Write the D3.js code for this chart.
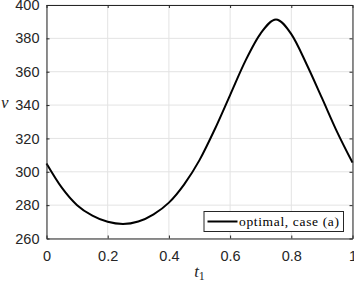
<!DOCTYPE html>
<html>
<head>
<meta charset="utf-8">
<script src="https://cdn.jsdelivr.net/npm/d3@7.9.0/dist/d3.min.js"></script>
<style>
  body { margin: 0; background: #fff; }
  svg { display: block; }
  .tick text { font-family: "Liberation Sans", Arial, sans-serif; font-size: 14.5px; fill: #262626; }
</style>
</head>
<body>
<div id="chart"></div>
<script>
// values
const tValues = [0, 0.05, 0.1, 0.15, 0.2, 0.25, 0.3, 0.35, 0.4, 0.45, 0.5,
                 0.55, 0.6, 0.65, 0.7, 0.75, 0.8, 0.85, 0.9, 0.95, 1];
const nuValues = [305, 290.5, 280, 273.7, 270, 268.7, 270.2, 274.5, 281.5, 292.5, 307,
                  325.5, 346, 366.5, 383, 391.3, 382.5, 364.5, 344.3, 323.8, 305.5];
const xTicks = [0, 0.2, 0.4, 0.6, 0.8, 1];
const yTicks = [260, 280, 300, 320, 340, 360, 380, 400];
const legendLabel = 'optimal, case (a)';

const width = 354;
const height = 283;
const margin = { top: 5, right: 1.5, bottom: 44.5, left: 46.5 };

const svg = d3.select('#chart')
  .append('svg')
  .attr('width', width)
  .attr('height', height);

const x = d3.scaleLinear().domain([0, 1]).range([margin.left, width - margin.right]);
const y = d3.scaleLinear().domain([260, 400]).range([height - margin.bottom, margin.top]);

const axisColor = '#262626';
const gridColor = '#e3e3e3';

// gridlines
svg.append('g')
  .selectAll('line')
  .data(xTicks)
  .join('line')
  .attr('x1', d => x(d)).attr('x2', d => x(d))
  .attr('y1', y(260)).attr('y2', y(400))
  .attr('stroke', gridColor).attr('stroke-width', 1);

svg.append('g')
  .selectAll('line')
  .data(yTicks)
  .join('line')
  .attr('x1', x(0)).attr('x2', x(1))
  .attr('y1', d => y(d)).attr('y2', d => y(d))
  .attr('stroke', gridColor).attr('stroke-width', 1);

// curve
const data = tValues.map((t, i) => ({ t, nu: nuValues[i] }));
const line = d3.line()
  .x(d => x(d.t))
  .y(d => y(d.nu))
  .curve(d3.curveMonotoneX);

svg.append('path')
  .datum(data)
  .attr('d', line)
  .attr('fill', 'none')
  .attr('stroke', '#000')
  .attr('stroke-width', 2);

// axes (ticks inward, box on)
const tickLen = 3;
const xAxis = svg.append('g')
  .attr('transform', `translate(0,${y(260)})`)
  .call(d3.axisBottom(x).tickValues(xTicks).tickFormat(d3.format('~g')).tickSizeInner(-tickLen).tickSizeOuter(0).tickPadding(12));
const yAxis = svg.append('g')
  .attr('transform', `translate(${x(0)},0)`)
  .call(d3.axisLeft(y).tickValues(yTicks).tickSizeInner(-tickLen).tickSizeOuter(0).tickPadding(7));
const xTop = svg.append('g')
  .attr('transform', `translate(0,${y(400)})`)
  .call(d3.axisTop(x).tickValues(xTicks).tickFormat('').tickSizeInner(-tickLen).tickSizeOuter(0));
const yRight = svg.append('g')
  .attr('transform', `translate(${x(1)},0)`)
  .call(d3.axisRight(y).tickValues(yTicks).tickFormat('').tickSizeInner(-tickLen).tickSizeOuter(0));

[xAxis, yAxis, xTop, yRight].forEach(g => {
  g.selectAll('path, line').attr('stroke', axisColor).attr('stroke-width', 1);
});

// axis labels
svg.append('text')
  .attr('x', (x(0) + x(1)) / 2)
  .attr('y', 277)
  .attr('text-anchor', 'middle')
  .attr('font-family', '"Liberation Serif", "DejaVu Serif", serif')
  .attr('font-style', 'italic')
  .attr('font-size', 17)
  .attr('fill', axisColor)
  .html('t<tspan font-size="12" font-style="normal" dy="3">1</tspan>');

svg.append('text')
  .attr('x', 1)
  .attr('y', 108)
  .attr('font-family', '"Liberation Serif", "DejaVu Serif", serif')
  .attr('font-style', 'italic')
  .attr('font-size', 17)
  .attr('fill', axisColor)
  .text('ν');

// legend
const legend = svg.append('g');
legend.append('rect')
  .attr('x', 204).attr('y', 211.5)
  .attr('width', 139.5).attr('height', 20)
  .attr('fill', '#fff')
  .attr('stroke', axisColor).attr('stroke-width', 1);
legend.append('line')
  .attr('x1', 207.5).attr('x2', 237.5)
  .attr('y1', 221.5).attr('y2', 221.5)
  .attr('stroke', '#000').attr('stroke-width', 2);
legend.append('text')
  .attr('x', 239)
  .attr('y', 226)
  .attr('font-family', '"Liberation Serif", "DejaVu Serif", serif')
  .attr('font-size', 13.5)
  .attr('fill', '#000')
  .attr('textLength', 100)
  .text(legendLabel);
</script>
</body>
</html>
